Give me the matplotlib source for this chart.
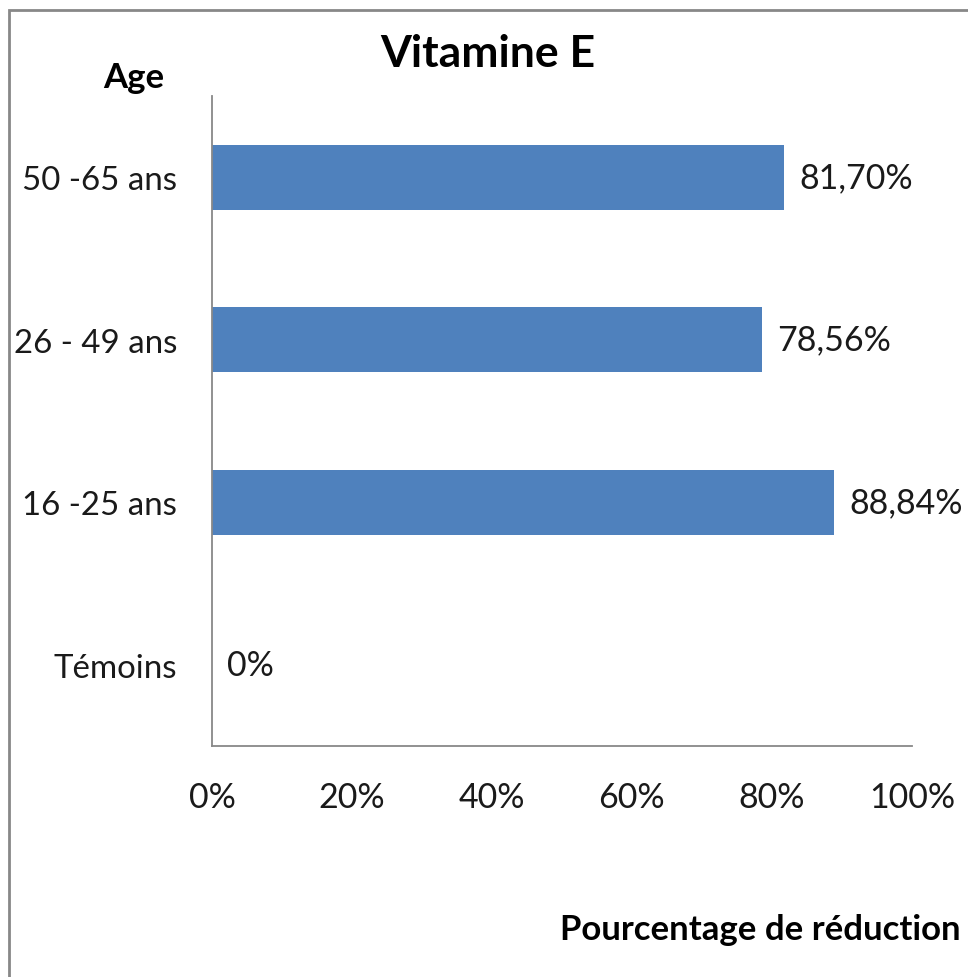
import matplotlib.pyplot as plt
from matplotlib.patches import Rectangle
from matplotlib.ticker import FuncFormatter

categories = ['Témoins', '16 -25 ans', '26 - 49 ans', '50 -65 ans']
reduction = [0, 88.84, 78.56, 81.70]
value_labels = ['0%', '88,84%', '78,56%', '81,70%']
x_ticks = [0, 20, 40, 60, 80, 100]

plt.rcParams['font.family'] = ['Lato', 'DejaVu Sans']

fig = plt.figure(figsize=(9.68, 9.78), dpi=100)
ax = fig.add_axes([0.219, 0.2362, 0.723, 0.6646])

# barres horizontales
pos = range(len(categories))
ax.barh(pos, reduction, height=0.4, color='#4F81BD')
for y, v, lab in zip(pos, reduction, value_labels):
    ax.text(v + 2.2, y, lab, va='center', ha='left', fontsize=24.5, color='#1a1a1a')

ax.set_xlim(0, 100)
ax.set_ylim(-0.5, 3.5)
ax.set_xticks(x_ticks)
ax.xaxis.set_major_formatter(FuncFormatter(lambda v, p: '%d%%' % v))
ax.set_yticks(list(pos))
ax.set_yticklabels(categories)
ax.tick_params(axis='x', length=0, pad=25, labelsize=24.5, colors='#1a1a1a')
ax.tick_params(axis='y', length=0, pad=25, labelsize=23.8, colors='#1a1a1a')

for s in ['top', 'right']:
    ax.spines[s].set_visible(False)
for s in ['left', 'bottom']:
    ax.spines[s].set_color('#888888')
    ax.spines[s].set_linewidth(1.3)

# titres
fig.text(0.504, 0.945, 'Vitamine E', ha='center', va='center', fontsize=32, fontweight='bold')
fig.text(0.138, 0.920, 'Age', ha='center', va='center', fontsize=25, fontweight='bold')
fig.text(0.992, 0.049, 'Pourcentage de réduction', ha='right', va='center',
         fontsize=25, fontweight='bold')

# cadre gris
fig.patches.append(Rectangle((9 / 968, -0.05), 1.1, 1 - 11 / 978 + 0.05, transform=fig.transFigure,
                             fill=False, edgecolor='#888888', linewidth=2))

fig.savefig('out.png', dpi=100)
